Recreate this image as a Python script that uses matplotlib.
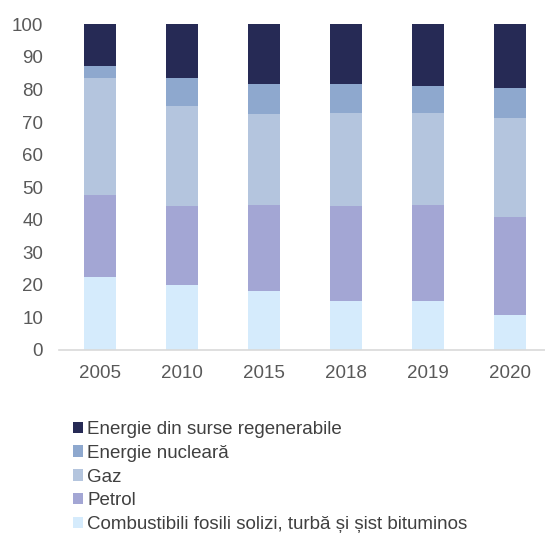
import matplotlib
matplotlib.use("Agg")
import matplotlib.pyplot as plt
from matplotlib.patches import Patch
import numpy as np

plt.rcParams['font.family'] = ['Liberation Sans', 'DejaVu Sans']

years = ["2005", "2010", "2015", "2018", "2019", "2020"]
combustibili = [22.5, 20.0, 18.1, 14.9, 14.9, 10.7]
petrol = [25.2, 24.1, 26.5, 29.2, 29.7, 30.2]
gaz = [35.7, 30.7, 27.8, 28.8, 28.3, 30.2]
nucleara = [3.7, 8.6, 9.2, 8.7, 8.1, 9.2]
regenerabile = [12.9, 16.6, 18.4, 18.4, 19.0, 19.7]

series = [
    ("Combustibili fosili solizi, turbă și șist bituminos", combustibili, "#D5EBFC"),
    ("Petrol", petrol, "#A3A6D4"),
    ("Gaz", gaz, "#B4C5DE"),
    ("Energie nucleară", nucleara, "#8EA8CE"),
    ("Energie din surse regenerabile", regenerabile, "#262A55"),
]

W, H = 545, 536
fig = plt.figure(figsize=(W / 100, H / 100), dpi=100)
ax = fig.add_axes([59 / W, 1 - 350 / H, (545 - 59) / W, (350 - 24.3) / H])

x = np.arange(len(years))
bottom = np.zeros(len(years))
for name, vals, col in series:
    ax.bar(x, vals, bottom=bottom, width=0.39, color=col, label=name, zorder=2)
    bottom += np.array(vals)

ax.set_ylim(0, 100)
ax.set_xlim(-0.5, (545 - 100) / 82)
ax.set_yticks(np.arange(0, 101, 10))
ax.set_xticks(x)
ax.set_xticklabels(years)
for s in ["top", "right", "left"]:
    ax.spines[s].set_visible(False)
ax.spines["bottom"].set_color("#D9D9D9")
ax.spines["bottom"].set_linewidth(1.2)
ax.tick_params(axis="both", length=0, labelsize=13.5, colors="#595959")
ax.tick_params(axis="y", pad=11.5)
ax.tick_params(axis="x", pad=11)

handles = [Patch(facecolor=c, edgecolor="none", label=n) for n, v, c in series[::-1]]
fig.legend(handles=handles, loc="upper left", bbox_to_anchor=(73 / W, 1 - 421 / H),
           frameon=False, fontsize=13.5, handlelength=0.55, handleheight=0.55,
           handletextpad=0.2, labelspacing=0.36, labelcolor="#404040",
           borderaxespad=0, borderpad=0)

fig.savefig("out.png", dpi=100)
